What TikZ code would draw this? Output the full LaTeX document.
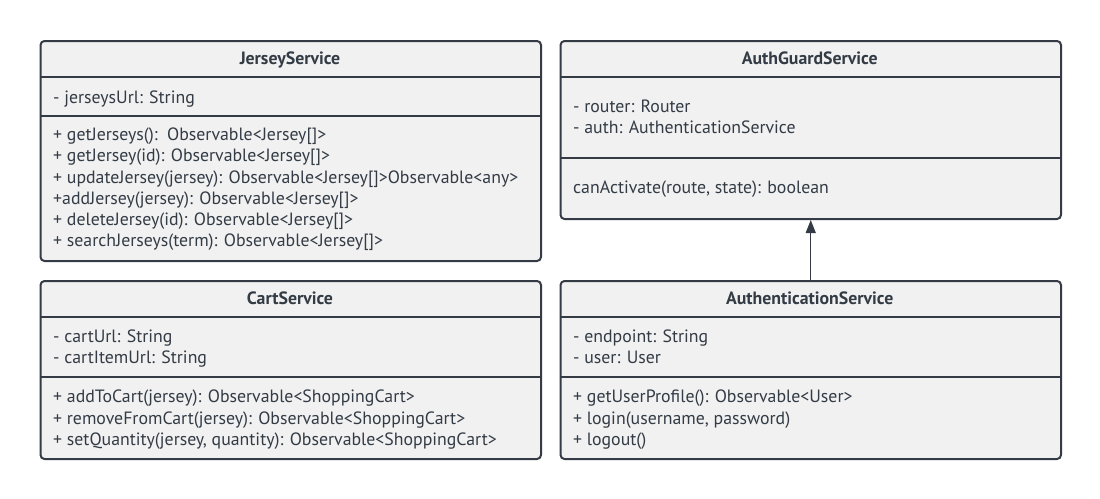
\documentclass[tikz,border=0pt]{standalone}
\usepackage{fontspec}
\setmainfont{PT Sans}
\usetikzlibrary{arrows.meta}
\definecolor{stroke}{HTML}{343B45}
\definecolor{boxfill}{HTML}{F1F1F1}
\definecolor{txtc}{HTML}{333B45}
\tikzset{
  classbox/.style={draw=stroke, fill=boxfill, line width=2pt, rounded corners=4pt, inner sep=0pt, anchor=north west, minimum width=500.5pt},
  sep/.style={draw=stroke, line width=2pt},
  mem/.style={anchor=base west, inner sep=0pt, text=txtc, font=\fontsize{17.8}{20}\selectfont},
  ttl/.style={anchor=base, inner sep=0pt, text=txtc, font=\fontsize{17.8}{20}\selectfont\bfseries},
  conn/.style={draw=stroke, line width=1.3pt, -{Triangle[length=13pt,width=10pt]}}
}
\begin{document}
\begin{tikzpicture}[x=1pt,y=-1pt]
\useasboundingbox (0,0) rectangle (1100,498);
% JerseyService
\node[classbox, minimum height=220pt] (js) at (39.5,40) {};
\draw[sep] (js.west |- 0,76.7) -- (js.east |- 0,76.7);
\draw[sep] (js.west |- 0,116) -- (js.east |- 0,116);
\node[ttl] (jst) at (290,64.5) {JerseyService};
\node[mem] (jsa1) at (53,103) {- jerseysUrl: String};
\node[mem] (jsm1) at (53,140.5) {+ getJerseys():\ \ Observable<Jersey[]>};
\node[mem] (jsm2) at (53,161.5) {+ getJersey(id): Observable<Jersey[]>};
\node[mem] (jsm3) at (53,183) {+ updateJersey(jersey): Observable<Jersey[]>Observable<any>};
\node[mem] (jsm4) at (53,204.5) {+addJersey(jersey): Observable<Jersey[]>};
\node[mem] (jsm5) at (53,225.5) {+ deleteJersey(id): Observable<Jersey[]>};
\node[mem] (jsm6) at (53,246.5) {+ searchJerseys(term): Observable<Jersey[]>};
% AuthGuardService
\node[classbox, minimum height=178pt] (ag) at (559.5,40) {};
\draw[sep] (ag.west |- 0,76.7) -- (ag.east |- 0,76.7);
\draw[sep] (ag.west |- 0,157.7) -- (ag.east |- 0,157.7);
\node[ttl] (agt) at (809.75,64.5) {AuthGuardService};
\node[mem] (aga1) at (573,112.5) {- router: Router};
\node[mem] (aga2) at (573,133.5) {- auth: AuthenticationService};
\node[mem] (agm1) at (573,193) {canActivate(route, state): boolean};
% CartService
\node[classbox, minimum height=178pt] (cs) at (39.5,280) {};
\draw[sep] (cs.west |- 0,316.7) -- (cs.east |- 0,316.7);
\draw[sep] (cs.west |- 0,377) -- (cs.east |- 0,377);
\node[ttl] (cst) at (290,304.5) {CartService};
\node[mem] (csa1) at (53,342.5) {- cartUrl: String};
\node[mem] (csa2) at (53,363.5) {- cartItemUrl: String};
\node[mem] (csm1) at (53,402.5) {+ addToCart(jersey): Observable<ShoppingCart>};
\node[mem] (csm2) at (53,424) {+ removeFromCart(jersey): Observable<ShoppingCart>};
\node[mem] (csm3) at (53,445.5) {+ setQuantity(jersey, quantity): Observable<ShoppingCart>};
% AuthenticationService
\node[classbox, minimum height=178pt] (as) at (559.5,280) {};
\draw[sep] (as.west |- 0,316.7) -- (as.east |- 0,316.7);
\draw[sep] (as.west |- 0,377) -- (as.east |- 0,377);
\node[ttl] (ast) at (809.75,304.5) {AuthenticationService};
\node[mem] (asa1) at (573,342.5) {- endpoint: String};
\node[mem] (asa2) at (573,363.5) {- user: User};
\node[mem] (asm1) at (573,402.5) {+ getUserProfile(): Observable<User>};
\node[mem] (asm2) at (573,424) {+ login(username, password)};
\node[mem] (asm3) at (573,445.5) {+ logout()};
% connector
\draw[conn] (as.north) -- (ag.south);
\end{tikzpicture}
\end{document}
